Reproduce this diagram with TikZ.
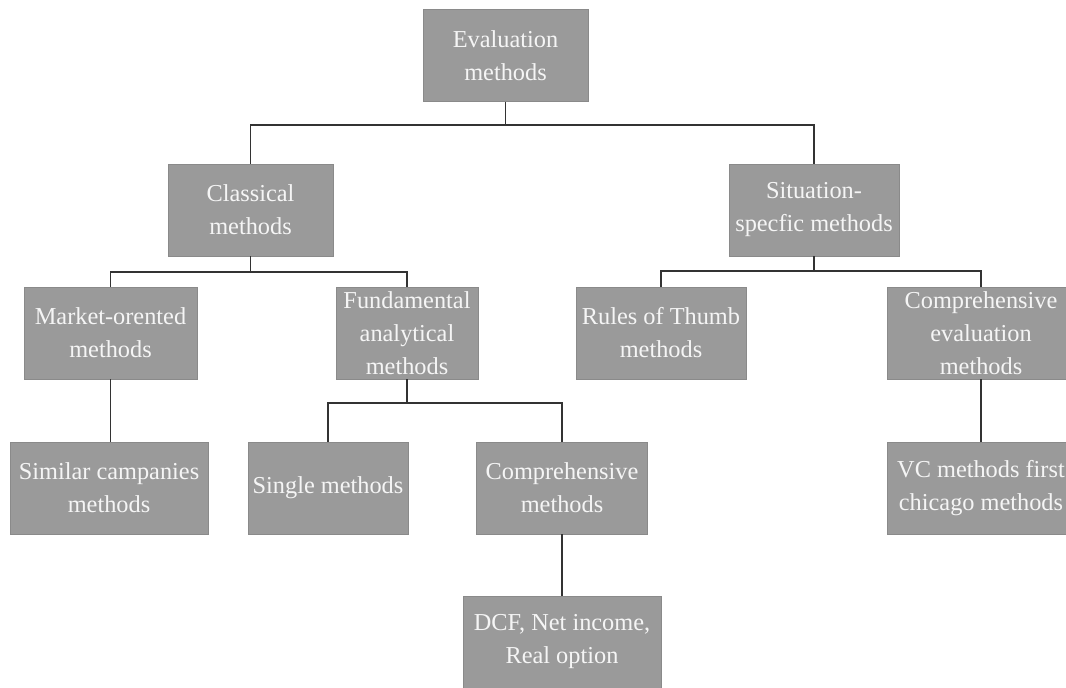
\documentclass[tikz,border=0pt]{standalone}
\usepackage{fontspec}
\setmainfont{Liberation Serif}
\usetikzlibrary{positioning, calc}
\definecolor{boxgray}{HTML}{9A9A9A}
\definecolor{boxedge}{HTML}{8A8A8A}
\definecolor{boxtext}{HTML}{F5F5F5}
\definecolor{linkgray}{HTML}{333333}
\tikzset{
  % riquadro di un metodo
  mbox/.style={draw=boxedge, fill=boxgray, text=boxtext, align=center,
    minimum height=2.3cm, inner sep=0pt, line width=0.6pt,
    font=\fontsize{17.3}{23.5}\selectfont},
  % ramo dell'albero
  treeline/.style={draw=linkgray, line width=1.4pt},
}

\begin{document}
\begin{tikzpicture}[x=0.025cm, y=-0.025cm]
  \useasboundingbox (0,0) rectangle (1066,688);
  \node[mbox, minimum width=4.125cm] (eval) at (505.5,55.5) {Evaluation\\methods};
  \node[mbox, minimum width=4.125cm] (classical) at (250.5,210) {Classical\\methods};
  \node[mbox, minimum width=4.25cm] (situation) at (814,210) {Situation-\\specfic methods};
  \node[mbox, minimum width=4.325cm] (market) at (110.5,333) {Market-orented\\methods};
  \node[mbox, minimum width=3.55cm] (fundamental) at (407,333) {Fundamental\\analytical\\methods};
  \node[mbox, minimum width=4.25cm] (rules) at (661,333) {Rules of Thumb\\methods};
  \node[mbox, minimum width=4.7cm] (compeval) at (981,333) {Comprehensive\\evaluation\\methods};
  \node[mbox, minimum width=4.95cm] (similar) at (109,488) {Similar campanies\\methods};
  \node[mbox, minimum width=4cm] (single) at (328,488) {Single methods};
  \node[mbox, minimum width=4.275cm] (comp) at (562,488) {Comprehensive\\methods};
  \node[mbox, minimum width=4.7cm] (vc) at (981,488) {VC methods first\\chicago methods};
  \node[mbox, minimum width=4.95cm] (dcf) at (562,642) {DCF, Net income,\\Real option};

  \draw[treeline] (eval.south) -- ++(0,23) -| (classical.north);
  \draw[treeline] (eval.south) -- ++(0,23) -| (situation.north);
  \draw[treeline] (classical.south) -- ++(0,16) -| (market.north);
  \draw[treeline] (classical.south) -- ++(0,16) -| (fundamental.north);
  \draw[treeline] (situation.south) -- ++(0,15) -| (rules.north);
  \draw[treeline] (situation.south) -- ++(0,15) -| (compeval.north);
  \draw[treeline] (fundamental.south) -- ++(0,24) -| (single.north);
  \draw[treeline] (fundamental.south) -- ++(0,24) -| (comp.north);
  \draw[treeline] (market.south) -- (market.south |- similar.north);
  \draw[treeline] (compeval.south) -- (vc.north);
  \draw[treeline] (comp.south) -- (dcf.north);
\end{tikzpicture}
\end{document}
